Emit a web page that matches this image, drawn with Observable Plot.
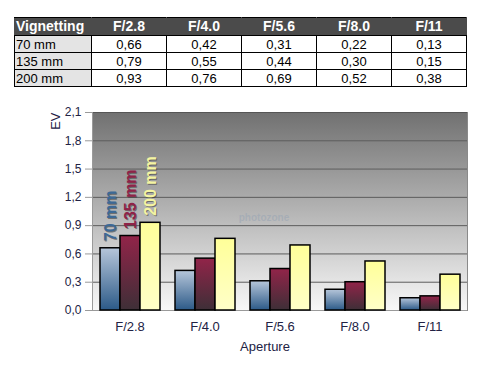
<!DOCTYPE html>
<html>
<head>
<meta charset="utf-8">
<script src="https://cdn.jsdelivr.net/npm/d3@7"></script>
<script src="https://cdn.jsdelivr.net/npm/@observablehq/plot@0.6"></script>
<style>
  html, body { margin: 0; padding: 0; background: #fff; }
  #wrap { position: relative; width: 487px; height: 366px; overflow: hidden; font-family: "Liberation Sans", Arial, sans-serif; }
  table { position: absolute; left: 14px; top: 17px; border-collapse: collapse; font-size: 13px; table-layout: fixed; width: 453px; }
  th { background: #4b4b4b; color: #fff; font-weight: bold; font-size: 14px; height: 17px; padding: 0; text-align: center; border: 1px solid #000; border-left-color: #4b4b4b; border-right-color: #4b4b4b; line-height: 15px; }
  th.first { text-align: left; padding-left: 1px; }
  td { border: 1px solid #000; height: 16px; padding: 0; text-align: center; color: #000; line-height: 15px; }
  td.first { background: #e4e4e4; text-align: left; padding-left: 1px; }
  #chart { position: absolute; left: 0; top: 100px; }
</style>
</head>
<body>
<div id="wrap">
  <table id="tbl"></table>
  <div id="chart"></div>
</div>
<script>
const apertures = ["F/2.8", "F/4.0", "F/5.6", "F/8.0", "F/11"];
const focals = ["70 mm", "135 mm", "200 mm"];
const ev70  = [0.66, 0.42, 0.31, 0.22, 0.13];
const ev135 = [0.79, 0.55, 0.44, 0.30, 0.15];
const ev200 = [0.93, 0.76, 0.69, 0.52, 0.38];
const yTicks = [0, 0.3, 0.6, 0.9, 1.2, 1.5, 1.8, 2.1];
const tableTitle = "Vignetting";
const xLabel = "Aperture";
const yLabel = "EV";
const watermark = "photozone";

const series = [ev70, ev135, ev200];
const gradIds = ["url(#g70)", "url(#g135)", "url(#g200)"];
const labelColors = ["#3d6996", "#8e2348", "#f4f4a2"];
const fmt = d => d.toFixed(2).replace(".", ",");

// table
const tbl = document.getElementById("tbl");
const widths = [77, 75, 75, 75, 75, 75];
let html = "<colgroup>" + widths.map(w => "<col style='width:" + w + "px'>").join("") + "</colgroup>";
html += "<tr><th class='first'>" + tableTitle + "</th>" +
  apertures.map(a => "<th>" + a + "</th>").join("") + "</tr>";
focals.forEach((f, j) => {
  html += "<tr><td class='first'>" + f + "</td>" + series[j].map(v => "<td>" + fmt(v) + "</td>").join("") + "</tr>";
});
tbl.innerHTML = html;

const rows = apertures.flatMap((a, i) => focals.map((f, j) => ({aperture: a, focal: f, ev: series[j][i], grad: gradIds[j], color: labelColors[j]})));
const labelRows = rows.filter(d => d.aperture === apertures[0]);

const plot = Plot.plot({
  width: 487,
  height: 266,
  marginTop: 12,
  marginLeft: 92,
  marginRight: 20,
  marginBottom: 56,
  style: {fontFamily: "'Liberation Sans', Arial, sans-serif", background: "transparent", overflow: "visible"},
  fx: {domain: apertures, padding: 0, label: null},
  x: {domain: focals, paddingInner: 0, paddingOuter: 0.34, axis: null},
  y: {domain: [0, 2.1]},
  color: {type: "identity"},
  marks: [
    Plot.frame({fill: "url(#bg)", shapeRendering: "crispEdges"}),
    Plot.ruleY(yTicks.filter(t => t > 0 && t < 2.1), {stroke: "#5c5c5c", strokeWidth: 1}),
    Plot.ruleY([2.1], {stroke: "#555", strokeWidth: 1}),
    Plot.ruleY([0], {stroke: "#9a9a9a", strokeWidth: 1}),
    Plot.frame({anchor: "left", facetAnchor: "left", stroke: "#9a9a9a"}),
    Plot.frame({anchor: "right", facetAnchor: "right", stroke: "#8a8a8a"}),
    Plot.axisY({ticks: yTicks, tickFormat: d => d.toFixed(1).replace(".", ","), tickSize: 7, tickPadding: 4, label: null, fontSize: 12, stroke: "#9a9a9a", fill: "#222244"}),
    Plot.axisFx({anchor: "bottom", tickSize: 0, tickPadding: 11, fontSize: 13, label: null, fill: "#222244"}),
    Plot.text([{fx: apertures[2]}], {fx: "fx", text: () => watermark, frameAnchor: "middle", dx: -16, dy: 6, fontSize: 10, fontWeight: "bold", fill: "#9aa6b4", fillOpacity: 0.6}),
    Plot.barY(rows, {fx: "aperture", x: "focal", y: "ev", fill: "grad", stroke: "#000", strokeWidth: 1.5}),
    Plot.text(labelRows, {fx: "aperture", x: "focal", y: "ev", text: "focal", rotate: -90, textAnchor: "start", dx: 1, dy: -6, fontSize: 16, fontWeight: "bold", fill: "#333", fillOpacity: 0.55}),
    Plot.text(labelRows, {fx: "aperture", x: "focal", y: "ev", text: "focal", rotate: -90, textAnchor: "start", dy: -7, fontSize: 16, fontWeight: "bold", fill: "color"}),
    Plot.text([{fx: apertures[0]}], {fx: "fx", text: () => yLabel, frameAnchor: "top-left", rotate: -90, textAnchor: "end", dx: -42, dy: 0, fontSize: 13, fill: "#222244"}),
    Plot.text([{fx: apertures[2]}], {fx: "fx", text: () => xLabel, frameAnchor: "bottom", dx: -15, dy: 40, fontSize: 13, fill: "#222244"})
  ]
});

const ns = "http://www.w3.org/2000/svg";
const defs = document.createElementNS(ns, "defs");
function grad(id, top, bottom) {
  const g = document.createElementNS(ns, "linearGradient");
  g.setAttribute("id", id);
  g.setAttribute("x1", "0"); g.setAttribute("y1", "0");
  g.setAttribute("x2", "0"); g.setAttribute("y2", "1");
  [[0, top], [1, bottom]].forEach(([o, c]) => {
    const s = document.createElementNS(ns, "stop");
    s.setAttribute("offset", o);
    s.setAttribute("stop-color", c);
    g.appendChild(s);
  });
  defs.appendChild(g);
}
grad("bg", "#717171", "#f8f8f8");
grad("g70", "#b6c6da", "#2c5a88");
grad("g135", "#922449", "#3e2f37");
grad("g200", "#ffff99", "#ffffc8");
const svg = plot.tagName.toLowerCase() === "svg" ? plot : plot.querySelector("svg");
svg.insertBefore(defs, svg.firstChild);
document.getElementById("chart").appendChild(plot);
</script>
</body>
</html>
